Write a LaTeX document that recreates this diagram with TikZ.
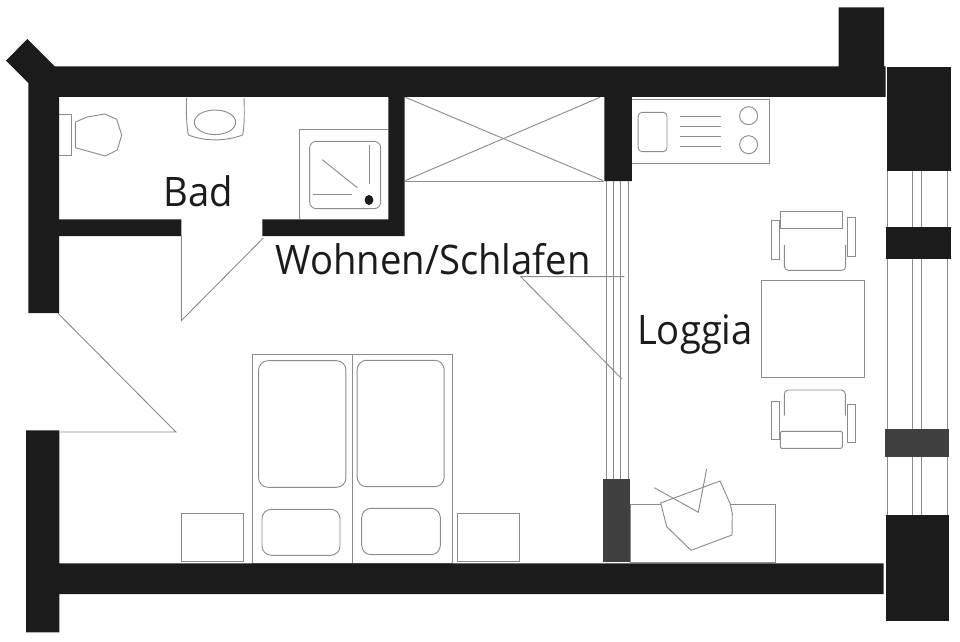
\documentclass[tikz,border=0pt]{standalone}
\usepackage{fontspec}
\setmainfont[FakeStretch=0.94]{Open Sans}
\tikzset{
  wall/.style={fill=wallblack,draw=none},
  greywall/.style={fill=walldark,draw=none},
  fine/.style={draw=linegrey,line width=0.7pt,fill=none},
  label/.style={inner sep=0pt,anchor=base,text=wallblack,font=\fontsize{30.5pt}{36pt}\selectfont}
}
\definecolor{wallblack}{HTML}{1B1B1B}
\definecolor{walldark}{HTML}{404040}
\definecolor{linegrey}{HTML}{8C8C8C}
\begin{document}
\begin{tikzpicture}[x=0.75pt,y=-0.75pt]
\useasboundingbox (0,0) rectangle (960,642);
% thin lines first
\draw[fine] (405,181) -- (604,181);
\draw[fine] (405.4,180.5) -- (600,97.3);
\draw[fine] (405.4,97.3) -- (603,180.5);
\foreach \x in {606.4,613.5,620.4,628.1} \draw[fine] (\x,181) -- (\x,479);
\foreach \x in {887.5,912.7,921.5,947.5} \draw[fine] (\x,171) -- (\x,515);
\draw[fine] (622,379) -- (520.7,276.7) -- (624.3,276.7);
% kitchen
\draw[fine] (631.8,99) rectangle (769.6,163.7);
\draw[fine,rounded corners=3pt] (638.2,112.3) rectangle (667,151.7);
\foreach \y in {116.3,126.7,136.3,146} \draw[fine] (680.4,\y) -- (721,\y);
\draw[fine] (748.6,115.7) circle[radius=9];
\draw[fine] (748.6,144.7) circle[radius=9];
% upper chair
\draw[fine] (780.7,211.7) rectangle (842,228.7);
\draw[fine] (771.4,220.7) rectangle (779.3,259.3);
\draw[fine] (847.5,217.3) rectangle (855.4,256);
\draw[fine,rounded corners=3pt] (784.3,245) -- (784.3,270.3) -- (845.7,270.3) -- (845.7,245);
% table
\draw[fine] (761,280) rectangle (864,377.7);
% lower chair
\draw[fine,rounded corners=3pt] (784.3,415.7) -- (784.3,390) -- (845.3,390) -- (845.3,415.7);
\draw[fine,rounded corners=1pt] (780.3,431.3) rectangle (842.3,448.3);
\draw[fine] (771.3,401) rectangle (779.3,439.3);
\draw[fine] (847.3,404.3) rectangle (855.7,442.3);
% desk and chair
\draw[fine] (630,504) rectangle (775,562.7);
\draw[fine,fill=white] (660.7,503) -- (720,481) -- (730,503.3) -- (732.3,513.3) -- (732,535) -- (691,550.3) -- (666.7,526.7) -- cycle;
\draw[fine] (654.3,487.7) -- (698.3,512.3) -- (706.7,468.7);
% bathroom
\draw[fine] (59,114.7) -- (71.7,114.7) -- (71.7,155.3) -- (59,155.3);
\draw[fine] (75.3,122) -- (87.3,117) -- (104.7,114) -- (116.7,119.3) -- (121.7,135) -- (117.3,150) -- (105.3,156) -- (75.3,147.7) -- cycle;
\draw[fine] (186.7,98) .. controls (186,112) and (186.5,125) .. (188.3,135) .. controls (205,141.5) and (225,141.5) .. (242.7,135) .. controls (244.5,125) and (244.5,112) .. (244,98);
\draw[fine] (215,122.3) ellipse[x radius=20.7,y radius=12.3];
\draw[fine] (299.7,219.3) -- (299.7,129.7) -- (388.3,129.7);
\draw[fine,rounded corners=5pt] (309.7,141.3) rectangle (380.7,208.7);
\draw[fine] (369,145.3) -- (369,184.3);
\draw[fine] (322.3,159.7) -- (357.3,187.7);
\draw[fine] (312.7,194.3) -- (352,194.3);
\fill[wallblack] (369,200) ellipse[x radius=4.4,y radius=5];
% doors
\draw[fine] (181.3,236) -- (181.3,320.7) -- (263.3,238);
\draw[fine] (58,313.3) -- (175.9,432) -- (60,432);
% beds
\draw[fine] (252.4,354) rectangle (452.8,563);
\draw[fine] (352.2,354) -- (352.2,563);
\draw[fine,rounded corners=7pt] (258.6,360.7) rectangle (345.9,487.3);
\draw[fine,rounded corners=7pt] (357.2,360.3) rectangle (444.1,486.7);
\draw[fine,rounded corners=7pt] (262,509.3) rectangle (340,555.3);
\draw[fine,rounded corners=7pt] (361.7,508.3) rectangle (440.3,554.7);
\draw[fine] (181.7,513.3) rectangle (243,561.3);
\draw[fine] (457.9,513.3) rectangle (519.3,561.3);
% walls
\fill[wall] (27.3,39) -- (55,66.5) -- (838.6,66.5) -- (838.6,7.3) -- (884,7.3) -- (884,66.5) -- (885.7,66.5) -- (885.7,97) -- (631.8,97) -- (631.8,181) -- (604.3,181) -- (604.3,97) -- (404.7,97) -- (404.7,236) -- (262.3,236) -- (262.3,219.3) -- (388.3,219.3) -- (388.3,97) -- (59,97) -- (59,219.3) -- (181.3,219.3) -- (181.3,236) -- (59,236) -- (59,313) -- (28.3,313) -- (28.3,83) -- (6,60.7) -- cycle;
\fill[wall] (887,66.7) rectangle (950.7,171);
\fill[wall] (885.7,227) rectangle (950.7,259);
\fill[wall] (885.7,515) rectangle (948.7,621);
\fill[wall] (26.2,430.3) -- (59.3,430.3) -- (59.3,563.3) -- (883.7,563.3) -- (883.7,594) -- (59.3,594) -- (59.3,632.3) -- (26.2,632.3) -- cycle;
\fill[greywall] (885.3,428.7) rectangle (948.7,457.3);
\fill[greywall] (602.7,479) rectangle (630,562);
% labels
\node[label] (bad) at (198,206) {Bad};
\node[label] (wohnen) at (433,274) {Wohnen/Schlafen};
\node[label] (loggia) at (695,344) {Loggia};
\end{tikzpicture}
\end{document}
